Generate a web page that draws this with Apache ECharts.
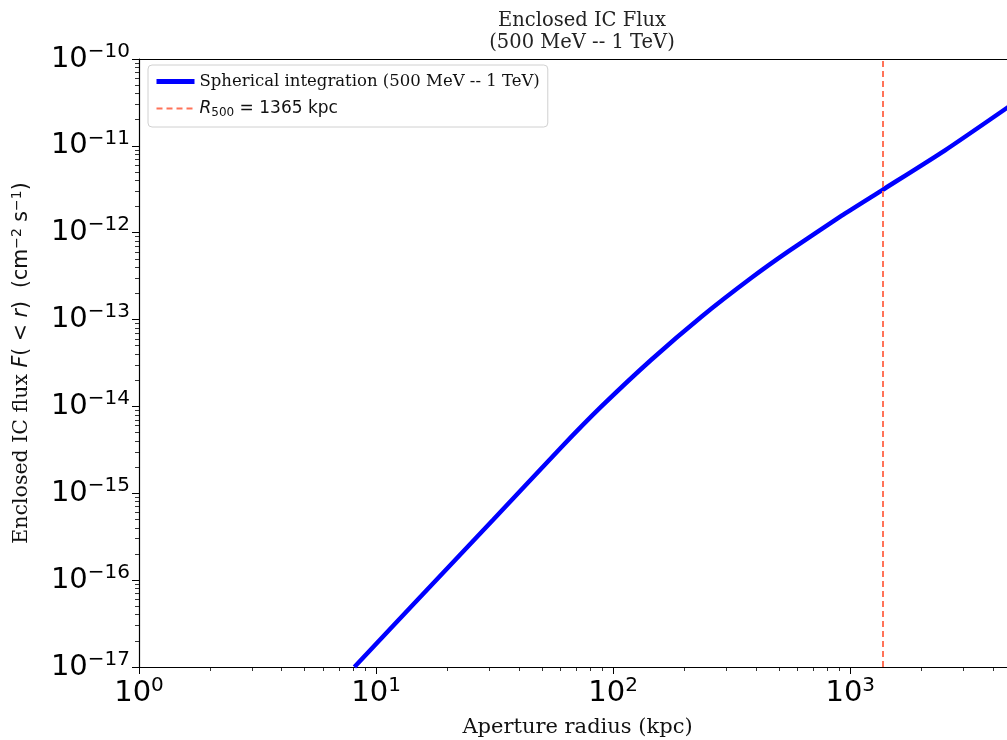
<!DOCTYPE html>
<html>
<head>
<meta charset="utf-8">
<script src="https://cdn.jsdelivr.net/npm/echarts@6/dist/echarts.min.js"></script>
<style>
  html, body { margin: 0; padding: 0; background: #fff; }
  #chart { width: 1007px; height: 740px; }
</style>
</head>
<body>
<div id="chart"></div>
<script>
// enclosed flux curve
const radius = [8.1, 14.8, 31.1, 60.3, 89.0, 144.8, 235.6, 383, 550, 920, 1365, 2510, 4680];
const flux = [1.0e-17, 5.75e-17, 4.93e-16, 3.37e-15, 9.93e-15, 3.45e-14, 1.08e-13, 3.03e-13, 6.14e-13, 1.57e-12, 3.1e-12, 8.89e-12, 2.85e-11];
const r500 = 1365;

const xMajor = [1, 10, 100, 1000];
const yMajor = [1e-17, 1e-16, 1e-15, 1e-14, 1e-13, 1e-12, 1e-11, 1e-10];

// minor ticks 2..9 in each decade
const minors = (lo, hi, max) => {
  const out = [];
  for (let d = lo; d < hi; d++) {
    for (let m = 2; m <= 9; m++) {
      const v = m * Math.pow(10, d);
      if (v <= max) out.push(v);
    }
  }
  return out;
};
const xMinor = minors(0, 4, 5000);
const yMinor = minors(-17, -10, 1e-10);

const sup = (v) => {
  const e = Math.round(Math.log10(v));
  return '{b|10}{s|' + String(e).replace('-', '\u2212') + '}';
};

const chart = echarts.init(document.getElementById('chart'));

const tickRich = {
  b: { fontFamily: 'DejaVu Sans', fontSize: 29, color: '#000' },
  s: { fontFamily: 'DejaVu Sans', fontSize: 20, color: '#000', verticalAlign: 'bottom', padding: [0, 0, 15, 0] }
};

const blue = '#0000ff';
const red = '#ff7258';

chart.setOption({
  animation: false,
  title: {
    text: 'Enclosed IC Flux\n(500 MeV -- 1 TeV)',
    left: 577,
    top: 5,
    textAlign: 'center',
    textStyle: { fontFamily: 'DejaVu Serif', fontSize: 19.5, fontWeight: 'normal', color: '#222', lineHeight: 22 }
  },
  legend: {
    left: 148,
    top: 65,
    orient: 'vertical',
    itemWidth: 38,
    itemHeight: 12,
    itemGap: 10,
    padding: [8, 8, 8, 6],
    borderColor: '#d0d0d0',
    borderWidth: 1,
    borderRadius: 4,
    data: [
      { name: 'Spherical integration (500 MeV -- 1 TeV)', itemStyle: { opacity: 0 }, lineStyle: { width: 5 } },
      { name: 'r500', itemStyle: { opacity: 0 }, lineStyle: { width: 2 } }
    ],
    formatter: (name) => name === 'r500' ? '{it|R}{sub|500}{n| = 1365 kpc}' : name,
    textStyle: {
      fontFamily: 'DejaVu Serif', fontSize: 16.5, color: '#111',
      rich: {
        it: { fontFamily: 'DejaVu Sans', fontStyle: 'italic', fontSize: 17, color: '#111' },
        sub: { fontFamily: 'DejaVu Sans', fontSize: 12, color: '#111', verticalAlign: 'top', padding: [9, 0, 0, 0] },
        n: { fontFamily: 'DejaVu Sans', fontSize: 17, color: '#111' }
      }
    }
  },
  grid: { left: 139, top: 59, right: -9, bottom: 73, outerBoundsMode: 'none' },
  xAxis: [
    {
      type: 'log', logBase: 10, min: 1, max: 5000, position: 'bottom',
      name: 'Aperture radius (kpc)', nameLocation: 'middle', nameGap: 50,
      nameTextStyle: { fontFamily: 'DejaVu Serif', fontSize: 21, color: '#111' },
      axisLine: { lineStyle: { color: '#000', width: 1.2 } },
      axisTick: { length: 7, lineStyle: { color: '#000', width: 1 }, customValues: xMajor },
      axisLabel: { margin: 9, customValues: xMajor, formatter: sup, rich: tickRich },
      splitLine: { show: false }
    },
    {
      type: 'log', logBase: 10, min: 1, max: 5000, position: 'bottom', offset: 0,
      axisLine: { show: false },
      axisTick: { length: 4, lineStyle: { color: '#000', width: 0.8 }, customValues: xMinor },
      axisLabel: { show: false },
      splitLine: { show: false }
    },
    {
      type: 'log', logBase: 10, min: 1, max: 5000, position: 'top',
      axisLine: { lineStyle: { color: '#000', width: 1.2 } },
      axisTick: { show: false },
      axisLabel: { show: false },
      splitLine: { show: false }
    }
  ],
  yAxis: [
    {
      type: 'log', logBase: 10, min: 1e-17, max: 1e-10, position: 'left',
      name: '{t|Enclosed IC flux }{i|F}{n|( < }{i|r}{n|)  (cm}{p|\u22122}{n| s}{p|\u22121}{n|)}',
      nameLocation: 'middle', nameGap: 105, nameRotate: 90,
      nameTextStyle: {
        rich: {
          t: { fontFamily: 'DejaVu Serif', fontSize: 20.5, color: '#111' },
          i: { fontFamily: 'DejaVu Sans', fontStyle: 'italic', fontSize: 20.5, color: '#111' },
          n: { fontFamily: 'DejaVu Sans', fontSize: 20.5, color: '#111' },
          p: { fontFamily: 'DejaVu Sans', fontSize: 14, color: '#111', verticalAlign: 'bottom', padding: [0, 0, 10, 0] }
        }
      },
      axisLine: { lineStyle: { color: '#000', width: 1.2 } },
      axisTick: { length: 7, lineStyle: { color: '#000', width: 1 }, customValues: yMajor },
      axisLabel: { margin: 9, customValues: yMajor, formatter: sup, rich: tickRich },
      splitLine: { show: false }
    },
    {
      type: 'log', logBase: 10, min: 1e-17, max: 1e-10, position: 'left', offset: 0,
      axisLine: { show: false },
      axisTick: { length: 4, lineStyle: { color: '#000', width: 0.8 }, customValues: yMinor },
      axisLabel: { show: false },
      splitLine: { show: false }
    }
  ],
  series: [
    {
      name: 'Spherical integration (500 MeV -- 1 TeV)',
      type: 'line',
      xAxisIndex: 0, yAxisIndex: 0,
      data: radius.map((r, i) => [r, flux[i]]),
      symbol: 'none',
      smooth: 0.2,
      clip: true,
      lineStyle: { color: blue, width: 4.5 },
      itemStyle: { color: blue }
    },
    {
      name: 'r500',
      type: 'line',
      xAxisIndex: 0, yAxisIndex: 0,
      data: [],
      symbol: 'none',
      lineStyle: { color: red, width: 2, type: [6, 4] },
      itemStyle: { color: red },
      markLine: {
        silent: true,
        symbol: 'none',
        label: { show: false },
        lineStyle: { color: red, width: 2, type: [6, 4] },
        data: [{ xAxis: r500 }]
      }
    }
  ]
});
</script>
</body>
</html>
